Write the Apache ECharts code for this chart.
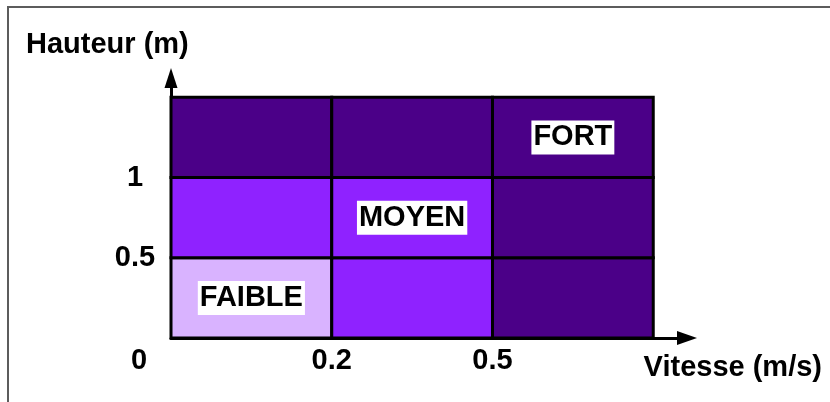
<!DOCTYPE html>
<html>
<head>
<meta charset="utf-8">
<script src="https://cdn.jsdelivr.net/npm/echarts@6/dist/echarts.min.js"></script>
<style>
html,body{margin:0;padding:0;background:#fff;}
#chart{width:830px;height:402px;position:relative;}
#frame{position:absolute;left:7px;top:6px;width:900px;height:500px;border:2px solid #5c5c5c;pointer-events:none;box-sizing:border-box;}
</style>
</head>
<body>
<div id="chart"></div>
<div id="frame"></div>
<script>
// ---- data ----
var xTickLabels = ['0', '0.2', '0.5'];          // Vitesse (m/s) boundaries
var yTickLabels = ['0', '0.5', '1'];            // Hauteur (m) boundaries
var levelNames = ['FAIBLE', 'MOYEN', 'FORT'];
var levelColors = ['#D9B3FF', '#8F22FF', '#4B0088'];
// level index per cell: row = height band (bottom to top), column = speed band
var row0 = [0, 1, 2];
var row1 = [1, 1, 2];
var row2 = [2, 2, 2];
var labelledCells = [[0, 0], [1, 1], [2, 2]]; // [col,row] cells carrying the level name
var xAxisName = 'Vitesse (m/s)';
var yAxisName = 'Hauteur (m)';

var rows = [row0, row1, row2];
var cells = [];
rows.forEach(function (r, yi) {
  r.forEach(function (lvl, xi) {
    var lab = labelledCells.some(function (c) { return c[0] === xi && c[1] === yi; }) ? levelNames[lvl] : '';
    cells.push([xi, yi, lvl, lab]);
  });
});

var FONT = '"Liberation Sans", Arial, sans-serif';
var chart = echarts.init(document.getElementById('chart'), null, {renderer: 'canvas'});
chart.setOption({
  backgroundColor: '#fff',
  animation: false,
  title: [
    {text: yAxisName, left: 26, top: 30, padding: 0,
     textStyle: {fontFamily: FONT, fontWeight: 'bold', fontSize: 29, color: '#000'}},
    {text: xAxisName, right: 8, top: 353, padding: 0,
     textStyle: {fontFamily: FONT, fontWeight: 'bold', fontSize: 29, color: '#000'}}
  ],
  grid: {left: 171, right: 143, top: 78, bottom: 64, containLabel: false},
  xAxis: {
    type: 'value', min: 0, max: 3.21, interval: 1,
    splitLine: {show: false}, axisTick: {show: false},
    axisLine: {show: true, symbol: ['none', 'triangle'], symbolSize: [14, 20],
               lineStyle: {color: '#000', width: 3}},
    axisLabel: {
      showMaxLabel: false, margin: 8,
      fontFamily: FONT, fontWeight: 'bold', fontSize: 29, color: '#000',
      formatter: function (v) {
        if (v === 0) return '{zero|' + xTickLabels[0] + '}';
        return (v === Math.round(v) && v < xTickLabels.length) ? xTickLabels[v] : '';
      },
      rich: {zero: {fontFamily: FONT, fontWeight: 'bold', fontSize: 29, color: '#000', padding: [0, 64, 0, 0]}}
    }
  },
  yAxis: {
    type: 'value', min: 0, max: 3.24, interval: 1,
    splitLine: {show: false}, axisTick: {show: false},
    axisLine: {show: true, symbol: ['none', 'triangle'], symbolSize: [13, 20],
               lineStyle: {color: '#000', width: 3}},
    axisLabel: {
      showMaxLabel: false, margin: 36, align: 'center',
      fontFamily: FONT, fontWeight: 'bold', fontSize: 29, color: '#000',
      formatter: function (v) {
        if (v === 0) return '';
        return (v === Math.round(v) && v < yTickLabels.length) ? yTickLabels[v] : '';
      }
    }
  },
  series: [{
    type: 'custom',
    data: cells,
    z: 1,
    renderItem: function (params, api) {
      var x = api.value(0), y = api.value(1), lvl = api.value(2);
      var lab = cells[params.dataIndex][3];
      var p0 = api.coord([x, y + 1]);
      var p1 = api.coord([x + 1, y]);
      var el = {
        type: 'rect',
        shape: {x: p0[0], y: p0[1], width: p1[0] - p0[0], height: p1[1] - p0[1]},
        style: {fill: levelColors[lvl], stroke: '#000', lineWidth: 3}
      };
      if (lab) {
        el.textContent = {
          style: {text: lab, fill: '#000', fontFamily: FONT, fontWeight: 'bold', fontSize: 29,
                  backgroundColor: '#fff', padding: [3, 2, 2, 2]}
        };
        el.textConfig = {position: 'inside'};
      }
      return el;
    }
  }]
});
</script>
</body>
</html>
